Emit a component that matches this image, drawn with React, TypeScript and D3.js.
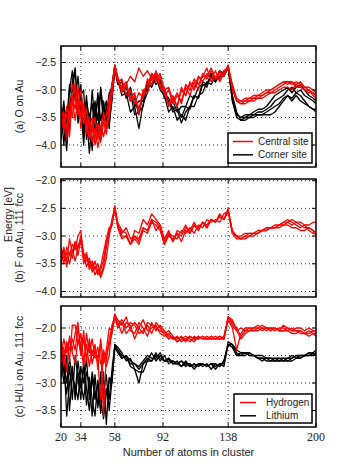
import React, { useEffect, useRef } from 'react';
import * as d3 from 'd3';

// cluster sizes (shared x grid for every curve)
const atoms = [
  20, 22, 24, 26, 28, 30, 32, 34, 36, 38, 40, 42, 44, 46, 48, 50, 52, 54, 56, 58,
  60, 63, 66, 69, 72, 75, 78, 81, 84, 87, 90, 93, 96, 99, 102, 105, 108, 111, 114, 117, 120, 123, 126, 129, 132, 135, 138,
  141, 144, 147, 150, 153, 156, 159, 162, 165, 168, 171, 174, 177, 180, 183, 186, 189, 192, 195, 198, 200,
];
const xTicks = [20, 34, 58, 92, 138, 200];

// (a) O on Au
const oCentral = [
  [
    -3.4, -3.75, -3.3, -3.55, -2.9, -3.1, -3.45, -3.2, -3.6, -3.35, -3.7, -3.5, -3.9, -3.6, -3.85, -3.4, -3.7, -3.3, -2.9, -2.55,
    -2.75, -3.0, -2.9, -3.15, -3.05, -3.45, -3.0, -2.95, -2.7, -2.85, -2.75, -3.1, -3.0, -3.25, -3.1, -3.2, -2.95, -3.1, -2.85, -3.0, -2.7, -2.8, -2.65, -2.8, -2.7, -2.75, -2.55,
    -2.95, -3.2, -3.25, -3.2, -3.2, -3.15, -3.15, -3.1, -3.05, -3.05, -3.0, -2.95, -2.9, -2.85, -2.9, -2.85, -2.9, -2.95, -3.0, -3.05, -3.1,
  ],
  [
    -3.75, -3.45, -3.9, -3.2, -3.5, -2.85, -3.3, -3.0, -3.4, -3.8, -3.5, -3.95, -3.7, -4.05, -3.75, -3.55, -3.8, -3.45, -3.1, -2.6,
    -2.8, -3.05, -2.9, -2.75, -2.85, -2.6, -2.75, -2.65, -2.8, -2.7, -2.95, -3.05, -3.25, -3.1, -3.3, -3.0, -3.1, -2.85, -3.0, -2.8, -2.75, -2.6, -2.85, -2.75, -2.8, -2.65, -2.6,
    -2.9, -3.15, -3.2, -3.15, -3.15, -3.1, -3.1, -3.05, -3.0, -3.0, -2.95, -2.9, -2.85, -2.9, -2.85, -2.95, -2.95, -3.0, -3.0, -3.1, -3.15,
  ],
  [
    -3.3, -3.6, -3.45, -3.85, -3.1, -3.35, -2.95, -3.5, -3.25, -3.55, -3.85, -3.65, -4.0, -3.75, -3.95, -3.6, -3.45, -3.15, -3.0, -2.6,
    -2.85, -2.8, -3.1, -3.0, -3.25, -3.05, -3.15, -2.8, -2.9, -2.65, -2.9, -2.95, -3.3, -3.15, -3.3, -2.95, -3.1, -2.9, -2.95, -2.75, -2.85, -2.7, -2.8, -2.65, -2.85, -2.7, -2.6,
    -3.0, -3.2, -3.25, -3.25, -3.2, -3.2, -3.15, -3.15, -3.1, -3.05, -3.05, -3.0, -2.95, -2.95, -3.0, -2.9, -2.95, -3.0, -3.05, -3.05, -3.1,
  ],
  [
    -3.6, -3.4, -3.7, -3.5, -3.2, -3.55, -3.15, -3.7, -3.3, -3.6, -3.9, -3.75, -3.5, -3.9, -3.65, -3.85, -3.6, -3.5, -2.95, -2.55,
    -2.8, -2.95, -2.85, -3.2, -3.1, -3.35, -3.0, -3.05, -2.75, -2.8, -2.7, -3.0, -2.95, -3.2, -3.05, -3.25, -2.9, -3.0, -2.8, -2.9, -2.75, -2.75, -2.6, -2.8, -2.65, -2.75, -2.55,
    -2.95, -3.2, -3.2, -3.2, -3.15, -3.15, -3.1, -3.1, -3.05, -3.0, -2.95, -2.9, -2.85, -2.85, -2.85, -2.9, -2.85, -2.95, -2.95, -3.0, -3.05,
  ],
];
const oCorner = [
  [
    -3.6, -3.2, -3.9, -3.0, -2.65, -3.2, -2.75, -3.3, -3.65, -3.1, -3.8, -3.0, -3.6, -3.1, -3.9, -3.2, -3.5, -3.05, -3.0, -2.55,
    -2.8, -3.1, -3.05, -3.4, -3.3, -3.7, -3.25, -3.05, -2.75, -2.9, -2.8, -3.15, -3.2, -3.4, -3.35, -3.6, -3.4, -3.3, -3.1, -3.15, -2.9, -2.9, -2.75, -2.85, -2.65, -2.75, -2.6,
    -3.15, -3.45, -3.5, -3.45, -3.45, -3.45, -3.4, -3.4, -3.35, -3.3, -3.2, -3.15, -3.1, -3.0, -2.95, -3.05, -3.0, -3.1, -3.15, -3.2, -3.25,
  ],
  [
    -3.9, -3.5, -4.1, -3.3, -3.0, -2.65, -3.4, -3.1, -3.0, -3.9, -3.5, -4.1, -3.3, -3.8, -3.0, -3.6, -3.3, -3.7, -3.1, -2.6,
    -2.85, -2.95, -3.1, -3.05, -3.45, -3.4, -3.3, -2.85, -2.95, -2.75, -3.0, -3.1, -3.4, -3.3, -3.55, -3.45, -3.55, -3.3, -3.3, -3.1, -3.05, -2.85, -2.9, -2.75, -2.8, -2.65, -2.6,
    -3.2, -3.5, -3.55, -3.5, -3.5, -3.45, -3.45, -3.45, -3.4, -3.35, -3.3, -3.25, -3.15, -3.1, -3.2, -3.1, -3.2, -3.25, -3.3, -3.35, -3.35,
  ],
  [
    -3.3, -4.0, -3.4, -3.75, -2.85, -2.6, -3.5, -2.9, -3.8, -3.4, -4.15, -3.6, -3.2, -3.55, -2.95, -3.4, -3.2, -3.6, -3.2, -2.6,
    -2.9, -2.85, -3.15, -2.95, -3.3, -3.2, -3.2, -2.9, -2.8, -2.7, -2.95, -3.0, -3.25, -3.2, -3.4, -3.3, -3.3, -3.1, -3.15, -2.95, -2.9, -2.95, -2.7, -2.85, -2.75, -2.7, -2.6,
    -3.1, -3.4, -3.55, -3.55, -3.5, -3.5, -3.45, -3.45, -3.45, -3.45, -3.4, -3.3, -3.2, -3.1, -3.15, -3.05, -3.1, -3.2, -3.3, -3.35, -3.4,
  ],
  [
    -3.7, -3.3, -3.6, -2.9, -3.2, -2.95, -3.6, -3.3, -4.0, -3.2, -3.5, -3.25, -3.75, -3.05, -3.55, -3.3, -3.6, -3.15, -2.9, -2.55,
    -2.8, -3.0, -2.95, -3.2, -3.15, -3.45, -3.05, -3.0, -2.7, -2.8, -2.85, -3.05, -3.15, -3.35, -3.3, -3.5, -3.3, -3.35, -3.1, -3.15, -2.85, -2.9, -2.7, -2.85, -2.65, -2.7, -2.55,
    -3.2, -3.45, -3.5, -3.5, -3.45, -3.4, -3.35, -3.35, -3.3, -3.2, -3.1, -3.05, -3.0, -2.95, -3.05, -2.95, -2.9, -3.0, -3.1, -3.15, -3.2,
  ],
];

// (b) F on Au, 111 fcc
const fFcc = [
  [
    -3.3, -3.5, -3.2, -3.35, -3.15, -3.25, -3.0, -2.9, -3.4, -3.3, -3.55, -3.45, -3.6, -3.5, -3.7, -3.55, -3.2, -2.9, -2.75, -2.45,
    -2.8, -2.95, -2.85, -3.05, -3.0, -3.1, -2.85, -2.9, -2.7, -2.9, -2.8, -3.1, -2.95, -3.1, -2.9, -2.95, -2.8, -2.95, -2.8, -2.85, -2.75, -2.85, -2.7, -2.75, -2.65, -2.7, -2.5,
    -2.95, -3.0, -3.05, -3.0, -3.0, -2.95, -2.95, -2.9, -2.9, -2.85, -2.85, -2.8, -2.75, -2.75, -2.8, -2.75, -2.8, -2.85, -2.85, -2.9, -2.95,
  ],
  [
    -3.5, -3.25, -3.45, -3.05, -3.3, -3.1, -3.2, -3.0, -3.3, -3.45, -3.4, -3.6, -3.45, -3.65, -3.55, -3.3, -3.05, -2.85, -2.8, -2.5,
    -2.85, -3.05, -3.0, -3.15, -2.9, -2.95, -2.7, -2.8, -2.6, -2.7, -2.8, -3.05, -2.9, -3.1, -2.95, -3.0, -2.85, -2.9, -2.75, -2.9, -2.75, -2.8, -2.7, -2.75, -2.6, -2.7, -2.55,
    -2.95, -3.0, -3.0, -2.95, -2.95, -2.95, -2.9, -2.9, -2.85, -2.85, -2.85, -2.8, -2.8, -2.75, -2.7, -2.75, -2.75, -2.8, -2.8, -2.75, -2.75,
  ],
  [
    -3.4, -3.2, -3.55, -3.3, -3.4, -3.1, -3.35, -3.05, -3.5, -3.35, -3.6, -3.5, -3.7, -3.6, -3.75, -3.6, -3.4, -3.0, -2.7, -2.5,
    -2.75, -2.9, -2.95, -3.15, -3.05, -3.15, -2.9, -2.95, -2.75, -2.8, -2.9, -3.15, -2.95, -3.0, -3.05, -2.9, -2.95, -2.85, -2.95, -2.8, -2.85, -2.7, -2.75, -2.7, -2.75, -2.6, -2.55,
    -2.9, -3.0, -3.05, -3.05, -3.0, -3.0, -2.95, -2.9, -2.9, -2.85, -2.85, -2.85, -2.8, -2.8, -2.85, -2.85, -2.9, -2.9, -2.85, -2.9, -3.0,
  ],
  [
    -3.2, -3.4, -3.3, -3.5, -3.25, -3.45, -3.2, -3.1, -3.35, -3.55, -3.45, -3.65, -3.55, -3.7, -3.6, -3.45, -3.1, -2.95, -2.8, -2.5,
    -2.8, -3.0, -3.0, -3.15, -3.0, -3.05, -2.85, -2.9, -2.7, -2.75, -2.85, -3.15, -3.0, -3.05, -2.95, -3.1, -2.9, -2.95, -2.8, -2.9, -2.75, -2.85, -2.7, -2.75, -2.65, -2.7, -2.55,
    -2.95, -3.05, -3.05, -3.0, -2.95, -2.95, -2.95, -2.9, -2.85, -2.85, -2.8, -2.8, -2.75, -2.7, -2.75, -2.8, -2.85, -2.8, -2.9, -2.95, -2.95,
  ],
];

// (c) H/Li on Au, 111 fcc
const hFcc = [
  [
    -2.2, -2.5, -2.3, -2.6, -1.95, -1.95, -2.3, -2.1, -2.6, -2.3, -2.7, -2.4, -2.5, -2.6, -3.3, -2.4, -2.6, -2.2, -2.0, -1.75,
    -1.85, -1.95, -1.8, -2.05, -2.1, -1.9, -2.0, -2.15, -1.9, -2.05, -1.95, -2.05, -2.15, -2.2, -2.15, -2.25, -2.2, -2.15, -2.2, -2.2, -2.15, -2.2, -2.2, -2.15, -2.2, -2.15, -1.8,
    -1.9, -2.0, -2.15, -2.05, -2.0, -2.0, -1.95, -2.0, -2.05, -2.0, -2.05, -2.0, -2.0, -2.05, -2.0, -2.05, -2.05, -2.1, -2.05, -2.1, -2.1,
  ],
  [
    -2.5, -2.2, -2.45, -2.2, -2.4, -2.1, -1.9, -2.5, -2.2, -2.55, -2.3, -2.65, -2.4, -2.55, -2.3, -3.6, -2.5, -2.3, -2.1, -1.8,
    -1.95, -1.85, -2.0, -1.9, -1.95, -2.1, -2.05, -1.95, -2.1, -1.9, -2.0, -2.1, -2.2, -2.15, -2.25, -2.2, -2.15, -2.2, -2.25, -2.15, -2.2, -2.2, -2.15, -2.2, -2.2, -2.2, -1.85,
    -2.0, -2.4, -2.1, -2.0, -2.0, -2.05, -2.05, -2.0, -2.0, -2.05, -2.0, -2.05, -2.05, -2.0, -2.05, -2.05, -2.1, -2.1, -2.15, -2.1, -2.15,
  ],
  [
    -2.4, -2.7, -2.25, -2.4, -2.2, -2.4, -2.0, -2.35, -2.7, -2.1, -2.45, -2.2, -2.55, -2.35, -2.65, -2.5, -2.7, -2.5, -1.95, -1.8,
    -1.9, -2.1, -1.9, -1.95, -2.2, -2.0, -1.85, -2.05, -2.0, -1.95, -2.1, -2.15, -2.1, -2.2, -2.2, -2.15, -2.25, -2.15, -2.2, -2.15, -2.2, -2.15, -2.2, -2.2, -2.15, -2.2, -1.8,
    -1.85, -2.05, -2.0, -2.05, -2.05, -2.0, -2.0, -1.95, -2.0, -2.0, -2.0, -2.05, -1.95, -2.0, -2.05, -2.0, -2.0, -2.05, -2.0, -2.05, -2.05,
  ],
  [
    -2.6, -2.35, -2.8, -2.15, -2.45, -2.65, -2.2, -2.45, -2.05, -2.6, -2.2, -2.5, -2.3, -2.75, -2.2, -2.65, -2.4, -2.0, -2.05, -1.75,
    -2.0, -1.9, -2.1, -2.0, -1.9, -2.0, -2.1, -1.9, -1.95, -2.0, -2.05, -2.1, -2.05, -2.15, -2.25, -2.2, -2.2, -2.25, -2.15, -2.2, -2.15, -2.2, -2.15, -2.2, -2.15, -2.2, -1.8,
    -1.95, -2.05, -2.2, -2.1, -2.05, -2.05, -2.0, -2.05, -2.0, -2.05, -2.0, -2.05, -2.05, -2.05, -2.1, -2.1, -2.05, -2.1, -2.1, -2.05, -2.05,
  ],
];
const liFcc = [
  [
    -2.3, -2.8, -3.2, -2.7, -3.3, -2.5, -2.9, -3.3, -2.6, -3.1, -3.5, -2.9, -3.3, -3.0, -3.55, -2.8, -3.75, -2.9, -3.0, -2.3,
    -2.4, -2.55, -2.5, -2.7, -2.75, -3.0, -2.65, -2.6, -2.45, -2.6, -2.5, -2.6, -2.55, -2.65, -2.6, -2.7, -2.6, -2.7, -2.65, -2.7, -2.65, -2.7, -2.65, -2.75, -2.65, -2.7, -2.3,
    -2.35, -2.5, -2.45, -2.45, -2.5, -2.5, -2.55, -2.55, -2.55, -2.6, -2.6, -2.6, -2.55, -2.55, -2.5, -2.55, -2.5, -2.5, -2.45, -2.45, -2.4,
  ],
  [
    -2.6, -3.0, -2.5, -3.5, -2.8, -3.2, -2.6, -3.0, -3.3, -2.8, -3.0, -3.6, -2.85, -3.45, -2.9, -3.3, -3.1, -3.3, -2.75, -2.3,
    -2.35, -2.45, -2.6, -2.55, -2.75, -2.8, -2.8, -2.6, -2.6, -2.45, -2.6, -2.5, -2.65, -2.6, -2.65, -2.6, -2.7, -2.65, -2.75, -2.65, -2.7, -2.65, -2.75, -2.65, -2.7, -2.6, -2.3,
    -2.3, -2.45, -2.5, -2.45, -2.5, -2.5, -2.55, -2.55, -2.6, -2.6, -2.55, -2.55, -2.6, -2.55, -2.55, -2.5, -2.55, -2.5, -2.5, -2.45, -2.5,
  ],
  [
    -2.9, -2.45, -3.6, -3.0, -2.7, -3.3, -2.8, -3.1, -2.7, -3.4, -2.9, -3.3, -3.6, -2.95, -3.3, -3.65, -3.2, -2.95, -2.9, -2.35,
    -2.45, -2.55, -2.5, -2.6, -2.65, -2.7, -2.6, -2.5, -2.55, -2.55, -2.45, -2.6, -2.55, -2.65, -2.65, -2.6, -2.65, -2.65, -2.7, -2.65, -2.65, -2.7, -2.65, -2.7, -2.65, -2.65, -2.25,
    -2.3, -2.4, -2.45, -2.45, -2.45, -2.5, -2.5, -2.5, -2.55, -2.55, -2.55, -2.6, -2.6, -2.6, -2.6, -2.55, -2.55, -2.5, -2.5, -2.5, -2.45,
  ],
  [
    -2.4, -2.6, -3.0, -2.55, -2.9, -3.05, -3.3, -2.7, -3.0, -2.55, -3.3, -2.8, -3.15, -3.4, -2.8, -3.2, -2.85, -3.5, -2.95, -2.35,
    -2.4, -2.5, -2.55, -2.65, -2.65, -2.75, -2.65, -2.55, -2.6, -2.5, -2.55, -2.6, -2.6, -2.6, -2.65, -2.7, -2.65, -2.7, -2.65, -2.7, -2.65, -2.7, -2.65, -2.65, -2.7, -2.6, -2.3,
    -2.35, -2.5, -2.5, -2.5, -2.45, -2.5, -2.55, -2.6, -2.55, -2.55, -2.6, -2.55, -2.55, -2.6, -2.55, -2.5, -2.5, -2.5, -2.45, -2.5, -2.45,
  ],
];

const W = 339;
const H = 475;
const LEFT = 61;
const RIGHT = 316;
const SANS = '"Liberation Sans", Arial, sans-serif';
const SERIF = '"Liberation Serif", "Times New Roman", serif';

const panels = [
  {
    top: 46, bottom: 167, domain: [-4.4, -2.2], ticks: [-4.0, -3.5, -3.0, -2.5],
    label: '(a) O on Au',
    groups: [
      { name: 'Corner site', color: '#000000', lines: oCorner },
      { name: 'Central site', color: '#ff0000', lines: oCentral },
    ],
    legend: { x: 228, y: 133, w: 84, h: 30, lx0: 233, lx1: 253, tx: 258 },
  },
  {
    top: 179, bottom: 297, domain: [-4.1, -1.97], ticks: [-4.0, -3.5, -3.0, -2.5, -2.0],
    label: '(b) F on Au, 111 fcc',
    groups: [{ name: 'Fluorine', color: '#ff0000', lines: fFcc }],
    legend: null,
  },
  {
    top: 306, bottom: 427, domain: [-3.8, -1.6], ticks: [-3.5, -3.0, -2.5, -2.0],
    label: '(c) H/Li on Au, 111 fcc',
    groups: [
      { name: 'Lithium', color: '#000000', lines: liFcc },
      { name: 'Hydrogen', color: '#ff0000', lines: hFcc },
    ],
    legend: { x: 234, y: 394, w: 78, h: 29, lx0: 240, lx1: 256, tx: 266 },
  },
];

const App = () => {
  const ref = useRef<SVGSVGElement>(null);

  useEffect(() => {
    if (!ref.current) return;
    const svg = d3.select(ref.current);
    svg.selectAll('*').remove();

    const x = d3.scaleLinear().domain([20, 200]).range([LEFT, RIGHT]);
    const fmt = d3.format('.1f');

    panels.forEach((p, i) => {
      const y = d3.scaleLinear().domain(p.domain).range([p.bottom, p.top]);
      const g = svg.append('g');
      const clipId = `clip-${i}`;
      g.append('clipPath').attr('id', clipId).append('rect')
        .attr('x', LEFT).attr('y', p.top).attr('width', RIGHT - LEFT).attr('height', p.bottom - p.top);

      // dotted grid
      g.selectAll('.gy').data(p.ticks).join('line')
        .attr('x1', LEFT).attr('x2', RIGHT)
        .attr('y1', (d) => y(d)).attr('y2', (d) => y(d))
        .attr('stroke', '#000').attr('stroke-width', 0.8).attr('stroke-dasharray', '1,3');
      g.selectAll('.gx').data(xTicks.slice(1, -1)).join('line')
        .attr('x1', (d) => x(d)).attr('x2', (d) => x(d))
        .attr('y1', p.top).attr('y2', p.bottom)
        .attr('stroke', '#000').attr('stroke-width', 0.8).attr('stroke-dasharray', '1,3');

      // curves
      const line = d3.line<number>().x((_, j) => x(atoms[j])).y((d) => y(d));
      const lg = g.append('g').attr('clip-path', `url(#${clipId})`);
      p.groups.forEach((grp) => {
        grp.lines.forEach((vals) => {
          lg.append('path').attr('d', line(vals))
            .attr('fill', 'none').attr('stroke', grp.color)
            .attr('stroke-width', 1.3).attr('stroke-linejoin', 'round');
        });
      });

      // ticks (inside, all four sides)
      p.ticks.forEach((t) => {
        g.append('line').attr('x1', LEFT).attr('x2', LEFT + 4).attr('y1', y(t)).attr('y2', y(t)).attr('stroke', '#000');
        g.append('line').attr('x1', RIGHT - 4).attr('x2', RIGHT).attr('y1', y(t)).attr('y2', y(t)).attr('stroke', '#000');
        g.append('text').attr('x', 56).attr('y', y(t)).attr('dy', '0.35em')
          .attr('text-anchor', 'end').attr('font-family', SANS).attr('font-size', 10.5)
          .attr('fill', '#222').text(fmt(t));
      });
      xTicks.forEach((t) => {
        g.append('line').attr('x1', x(t)).attr('x2', x(t)).attr('y1', p.bottom).attr('y2', p.bottom - 4).attr('stroke', '#000');
        g.append('line').attr('x1', x(t)).attr('x2', x(t)).attr('y1', p.top).attr('y2', p.top + 4).attr('stroke', '#000');
      });

      // frame
      g.append('rect').attr('x', LEFT).attr('y', p.top)
        .attr('width', RIGHT - LEFT).attr('height', p.bottom - p.top)
        .attr('fill', 'none').attr('stroke', '#000').attr('stroke-width', 1.5);

      // y label
      const cy = (p.top + p.bottom) / 2;
      g.append('text').attr('transform', `translate(23,${cy}) rotate(-90)`)
        .attr('text-anchor', 'middle').attr('font-family', SANS).attr('font-size', 10.5)
        .attr('fill', '#222').text(p.label);
      if (i === 1) {
        g.append('text').attr('transform', `translate(12,${p.top + 8}) rotate(-90)`)
          .attr('text-anchor', 'end').attr('font-family', SANS).attr('font-size', 10.5)
          .attr('fill', '#222').text('Energy [eV]');
      }

      // legend
      if (p.legend) {
        const L = p.legend;
        const lgd = g.append('g');
        lgd.append('rect').attr('x', L.x).attr('y', L.y).attr('width', L.w).attr('height', L.h)
          .attr('fill', '#fff').attr('stroke', '#000').attr('stroke-width', 1.5);
        const entries = [...p.groups].reverse();
        entries.forEach((grp, k) => {
          const ly = L.y + 8.5 + k * 13.3;
          lgd.append('line').attr('x1', L.lx0).attr('x2', L.lx1).attr('y1', ly).attr('y2', ly)
            .attr('stroke', grp.color).attr('stroke-width', 1.5);
          lgd.append('text').attr('x', L.tx).attr('y', ly).attr('dy', '0.35em')
            .attr('font-family', SANS).attr('font-size', 10).attr('fill', '#222').text(grp.name);
        });
      }

      // x tick labels only on the bottom panel
      if (i === panels.length - 1) {
        xTicks.forEach((t) => {
          g.append('text').attr('x', x(t)).attr('y', p.bottom + 14)
            .attr('text-anchor', 'middle').attr('font-family', SERIF).attr('font-size', 12)
            .attr('fill', '#222').text(String(t));
        });
        g.append('text').attr('x', (LEFT + RIGHT) / 2).attr('y', p.bottom + 29)
          .attr('text-anchor', 'middle').attr('font-family', SANS).attr('font-size', 11)
          .attr('fill', '#222').text('Number of atoms in cluster');
      }
    });
  }, []);

  return (
    <svg
      ref={ref}
      width={W}
      height={H}
      style={{ position: 'absolute', left: 0, top: 0, background: '#fff' }}
    />
  );
};

export default App;
